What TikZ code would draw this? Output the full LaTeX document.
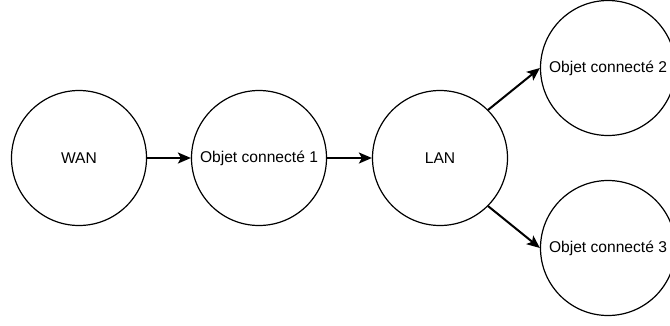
\documentclass[tikz,border=0pt]{standalone}
\usepackage{fontspec}
\setmainfont{Liberation Sans}
\usetikzlibrary{arrows.meta}

\begin{document}
\begin{tikzpicture}[x=1pt,y=-1pt,
  netnode/.style={circle,draw,line width=1.2pt,minimum size=135pt,inner sep=0pt,
    font=\fontsize{15.6}{18}\selectfont},
  link/.style={line width=2pt,-{Stealth[length=13pt,width=11pt,inset=3pt]}}]
\useasboundingbox (0,0) rectangle (670,325);
\node[netnode] (wan) at (79,158) {WAN};
\node[netnode] (obj1) at (259,158) {Objet connecté 1};
\node[netnode] (lan) at (440,158) {LAN};
\node[netnode] (obj2) at (608,68) {Objet connecté 2};
\node[netnode] (obj3) at (608,248) {Objet connecté 3};
\draw[link] (wan) -- (obj1);
\draw[link] (obj1) -- (lan);
\draw[link] (lan.45) -- (obj2.west);
\draw[link] (lan.-45) -- (obj3.west);
\end{tikzpicture}
\end{document}
